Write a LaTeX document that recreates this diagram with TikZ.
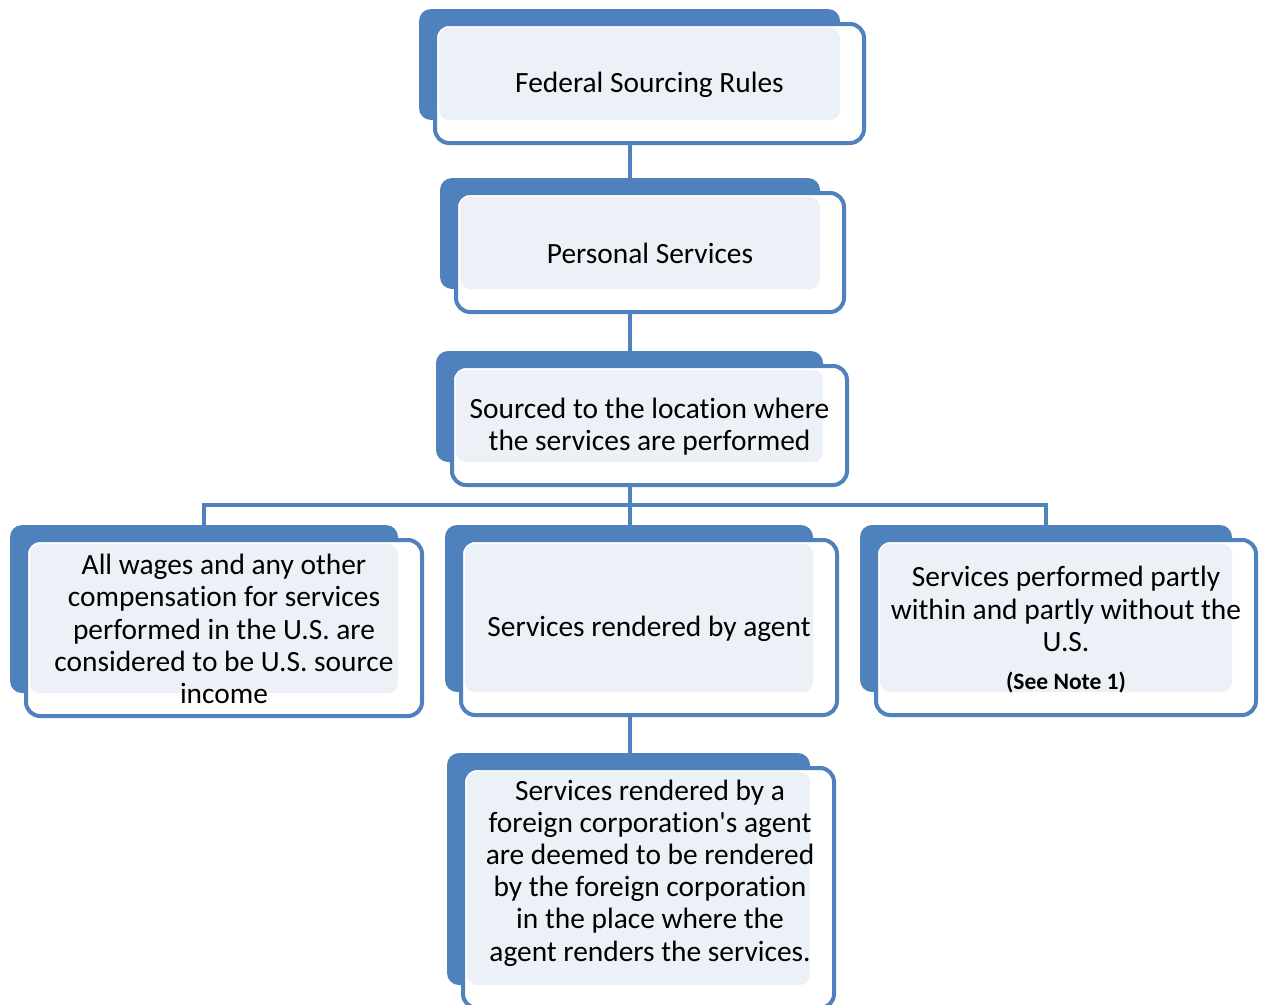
\documentclass[tikz,border=0pt]{standalone}
\usepackage{fontspec}
\setmainfont{Carlito}[RawFeature={-liga;-clig;-calt;-dlig}]
\usetikzlibrary{fit}
\definecolor{bblue}{HTML}{4F81BD}
\definecolor{lfill}{HTML}{ECF0F7}
\tikzset{
  backbox/.style={fill=bblue, draw=none, rounded corners=12pt, inner sep=0pt},
  outbox/.style={fill=white, draw=bblue, line width=4pt, rounded corners=14pt, inner sep=0pt},
  lightbox/.style={fill=lfill, draw=none, rounded corners=10pt, inner sep=0pt},
  txt/.style={align=center, inner sep=0pt, font=\fontsize{29.4}{32.2}\selectfont},
  conn/.style={draw=bblue, line width=4.2pt},
}
\newcommand\mybox[6]{%
  \node[backbox, fit={(#2,#3) (#4,#5)}] (#1b) {};
  \node[outbox, fit={(#2+16,#3+15) (#4+24,#5+23)}] (#1o) {};
  \node[lightbox, fit={(#2+20,#3+19) (#4,#5)}] (#1l) {};
  \node[txt] (#1) at ([yshift=-1pt]#1o.center) {#6};
}
\begin{document}
\begin{tikzpicture}[x=1pt,y=-1pt]
\useasboundingbox (0,0) rectangle (1261,1004);
\coordinate (hub) at (630,505);
% connectors
\draw[conn] (630,120) coordinate (c1) -- (630,178) coordinate (c2);
\draw[conn] (630,289) coordinate (c3) -- (630,351) coordinate (c4);
\draw[conn] (630,462) coordinate (c5) -- (630,525) coordinate (c6);
\draw[conn] (204,525) coordinate (c7) |- (hub) -| (1046,525) coordinate (c8);
\draw[conn] (630,692) coordinate (c9) -- (630,753) coordinate (c10);
% boxes
\mybox{fed}{419}{9}{840}{120}{Federal Sourcing Rules}
\mybox{pers}{440}{178}{820}{289}{Personal Services}
\mybox{src}{436}{351}{823}{462}{Sourced to the location where\\the services are performed}
\mybox{wages}{10}{525}{398}{693}{All wages and any other\\compensation for services\\performed in the U.S. are\\considered to be U.S. source\\income}
\mybox{agent}{445}{525}{813}{692}{Services rendered by agent}
\mybox{partly}{860}{525}{1232}{692}{}
\node[txt] (partlyt) at (1066,609) {Services performed partly\\within and partly without the\\U.S.};
\node[txt, font=\fontsize{23.5}{26}\selectfont\bfseries] (note) at (1066,683) {(See Note 1)};
\mybox{foreign}{447}{753}{810}{985}{}
\node[txt] (foreignt) at (650,873) {Services rendered by a\\foreign corporation\textquotesingle s agent\\are deemed to be rendered\\by the foreign corporation\\in the place where the\\agent renders the services.};
\end{tikzpicture}
\end{document}
